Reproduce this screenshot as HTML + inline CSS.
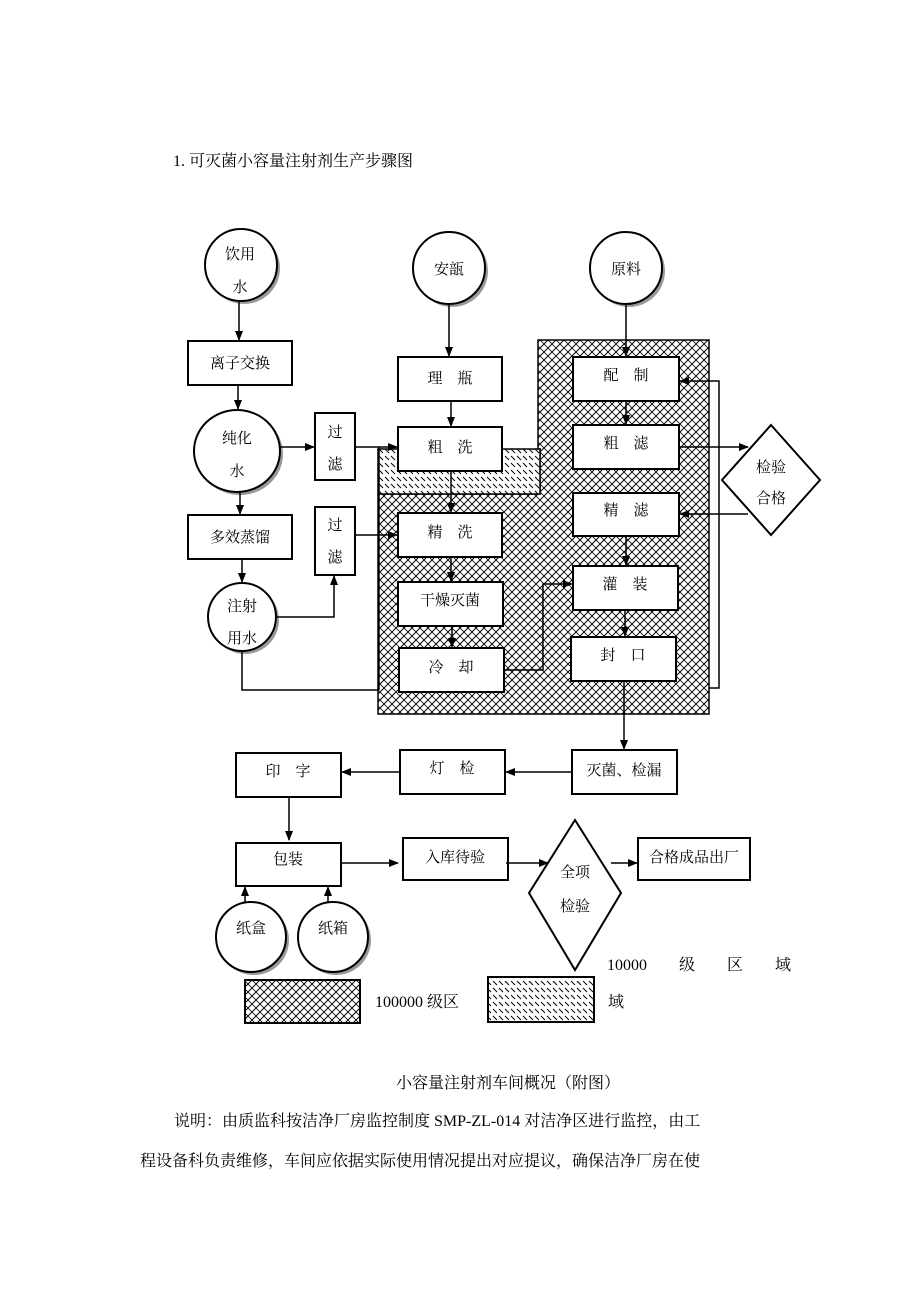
<!DOCTYPE html>
<html><head><meta charset="utf-8"><style>
html,body{margin:0;padding:0;background:#fff;}
svg{display:block;}
text{font-family:"Liberation Serif","Noto Serif CJK SC","Noto Sans CJK SC",serif;fill:#000;}
</style></head><body>
<svg width="920" height="1302" viewBox="0 0 920 1302" xmlns="http://www.w3.org/2000/svg">
<defs>
<pattern id="cross" width="8" height="8" patternUnits="userSpaceOnUse">
<rect width="8" height="8" fill="#fff"/>
<path d="M0,8 L8,0 M-2,2 L2,-2 M6,10 L10,6" stroke="#000" stroke-width="1"/>
<path d="M0,0 L4,4 M4,4 L8,8" stroke="#000" stroke-width="0.8"/>
</pattern>
<pattern id="wave" width="6" height="7" patternUnits="userSpaceOnUse">
<rect width="6" height="7" fill="#fff"/>
<path d="M1,1 L5,5" stroke="#000" stroke-width="1"/>
</pattern>
<marker id="ar" markerWidth="10" markerHeight="10" refX="9" refY="5" orient="auto" markerUnits="userSpaceOnUse">
<path d="M0,1 L10,5 L0,9 Z" fill="#000"/>
</marker>
</defs>

<text x="173" y="166" font-size="16">1.   可灭菌小容量注射剂生产步骤图</text>

<!-- regions -->
<polygon points="538,340 709,340 709,714 378,714 378,494 540,494 540,449 538,449" fill="url(#cross)" stroke="#000" stroke-width="1.5"/>
<rect x="378" y="449" width="162" height="45" fill="url(#wave)" stroke="#000" stroke-width="1.5"/>

<g fill="#fff" stroke="#000" stroke-width="2">
<!-- shadows -->
<g fill="#999" stroke="none">
<circle cx="244" cy="268" r="36"/><ellipse cx="240" cy="454" rx="43" ry="41"/><circle cx="245" cy="620" r="34"/>
<circle cx="452" cy="271" r="36"/><circle cx="629" cy="271" r="36"/>
<circle cx="254" cy="940" r="35"/><circle cx="336" cy="940" r="35"/>
</g>
<circle cx="241" cy="265" r="36"/>
<ellipse cx="237" cy="451" rx="43" ry="41"/>
<circle cx="242" cy="617" r="34"/>
<circle cx="449" cy="268" r="36"/>
<circle cx="626" cy="268" r="36"/>
<circle cx="251" cy="937" r="35"/>
<circle cx="333" cy="937" r="35"/>

<rect x="188" y="341" width="104" height="44"/>
<rect x="315" y="413" width="40" height="67"/>
<rect x="188" y="515" width="104" height="44"/>
<rect x="315" y="507" width="40" height="68"/>
<rect x="398" y="357" width="104" height="44"/>
<rect x="398" y="427" width="104" height="44"/>
<rect x="398" y="513" width="104" height="44"/>
<rect x="398" y="582" width="105" height="44"/>
<rect x="399" y="648" width="105" height="44"/>
<rect x="573" y="357" width="106" height="44"/>
<rect x="573" y="425" width="106" height="44"/>
<rect x="573" y="493" width="106" height="43"/>
<rect x="573" y="566" width="105" height="44"/>
<rect x="571" y="637" width="105" height="44"/>
<rect x="572" y="750" width="105" height="44"/>
<rect x="400" y="750" width="105" height="44"/>
<rect x="236" y="753" width="105" height="44"/>
<rect x="236" y="843" width="105" height="43"/>
<rect x="403" y="838" width="105" height="42"/>
<rect x="638" y="838" width="112" height="42"/>
<polygon points="771,425 820,480 771,535 722,480"/>
<polygon points="575,820 621,893 575,970 529,893"/>
<rect x="245" y="980" width="115" height="43" fill="url(#cross)"/>
<rect x="488" y="977" width="106" height="45" fill="url(#wave)"/>
</g>

<!-- connectors -->
<g stroke="#000" stroke-width="1.5" fill="none">
<line x1="239" y1="302" x2="239" y2="340" marker-end="url(#ar)"/>
<line x1="238" y1="385" x2="238" y2="409" marker-end="url(#ar)"/>
<line x1="280" y1="447" x2="314" y2="447" marker-end="url(#ar)"/>
<line x1="240" y1="492" x2="240" y2="514" marker-end="url(#ar)"/>
<line x1="242" y1="559" x2="242" y2="582" marker-end="url(#ar)"/>
<polyline points="276,617 334,617 334,576" marker-end="url(#ar)"/>
<polyline points="242,651 242,690 378,690"/>
<line x1="355" y1="447" x2="397" y2="447" marker-end="url(#ar)"/>
<line x1="355" y1="535" x2="397" y2="535" marker-end="url(#ar)"/>
<line x1="379" y1="447" x2="379" y2="690"/>
<line x1="449" y1="304" x2="449" y2="356" marker-end="url(#ar)"/>
<line x1="626" y1="304" x2="626" y2="356" marker-end="url(#ar)"/>
<line x1="451" y1="401" x2="451" y2="426" marker-end="url(#ar)"/>
<line x1="451" y1="471" x2="451" y2="512" marker-end="url(#ar)"/>
<line x1="451" y1="557" x2="451" y2="581" marker-end="url(#ar)"/>
<line x1="452" y1="626" x2="452" y2="647" marker-end="url(#ar)"/>
<polyline points="504,670 543,670 543,584 572,584" marker-end="url(#ar)"/>
<line x1="626" y1="401" x2="626" y2="424" marker-end="url(#ar)"/>
<line x1="626" y1="536" x2="626" y2="565" marker-end="url(#ar)"/>
<line x1="625" y1="610" x2="625" y2="636" marker-end="url(#ar)"/>
<line x1="679" y1="447" x2="748" y2="447" marker-end="url(#ar)"/>
<line x1="748" y1="514" x2="680" y2="514" marker-end="url(#ar)"/>
<polyline points="709,688 719,688 719,381 680,381" marker-end="url(#ar)"/>
<line x1="624" y1="681" x2="624" y2="749" marker-end="url(#ar)"/>
<line x1="572" y1="772" x2="506" y2="772" marker-end="url(#ar)"/>
<line x1="400" y1="772" x2="342" y2="772" marker-end="url(#ar)"/>
<line x1="289" y1="797" x2="289" y2="840" marker-end="url(#ar)"/>
<line x1="341" y1="863" x2="398" y2="863" marker-end="url(#ar)"/>
<line x1="506" y1="863" x2="548" y2="863" marker-end="url(#ar)"/>
<line x1="611" y1="863" x2="637" y2="863" marker-end="url(#ar)"/>
<line x1="245" y1="902" x2="245" y2="887" marker-end="url(#ar)"/>
<line x1="328" y1="902" x2="328" y2="887" marker-end="url(#ar)"/>
</g>

<g font-size="15" text-anchor="middle">
<text x="240" y="259">饮用</text>
<text x="240" y="292">水</text>
<text x="240" y="368">离子交换</text>
<text x="237" y="443">纯化</text>
<text x="237" y="476">水</text>
<text x="335" y="437">过</text>
<text x="335" y="469">滤</text>
<text x="240" y="542">多效蒸馏</text>
<text x="335" y="530">过</text>
<text x="335" y="562">滤</text>
<text x="242" y="611">注射</text>
<text x="242" y="643">用水</text>
<text x="449" y="274">安瓿</text>
<text x="626" y="274">原料</text>
<text x="450" y="383">理　瓶</text>
<text x="450" y="452">粗　洗</text>
<text x="450" y="537">精　洗</text>
<text x="450" y="605">干燥灭菌</text>
<text x="451" y="672">冷　却</text>
<text x="626" y="380">配　制</text>
<text x="626" y="448">粗　滤</text>
<text x="626" y="515">精　滤</text>
<text x="625" y="589">灌　装</text>
<text x="623" y="660">封　口</text>
<text x="771" y="472">检验</text>
<text x="771" y="503">合格</text>
<text x="624" y="775">灭菌、检漏</text>
<text x="452" y="773">灯　检</text>
<text x="288" y="776">印　字</text>
<text x="288" y="864">包装</text>
<text x="455" y="862">入库待验</text>
<text x="575" y="877">全项</text>
<text x="575" y="911">检验</text>
<text x="694" y="862">合格成品出厂</text>
<text x="251" y="933">纸盒</text>
<text x="333" y="933">纸箱</text>
</g>

<g font-size="16">
<text x="607" y="970">10000　　级　　区　　域</text>
<text x="375" y="1007">100000 级区</text>
<text x="608" y="1007">域</text>
<text x="396" y="1088">小容量注射剂车间概况（附图）</text>
<text x="174" y="1126">说明：由质监科按洁净厂房监控制度 SMP-ZL-014 对洁净区进行监控，由工</text>
<text x="140" y="1166">程设备科负责维修，车间应依据实际使用情况提出对应提议，确保洁净厂房在使</text>
</g>
</svg>
</body></html>
